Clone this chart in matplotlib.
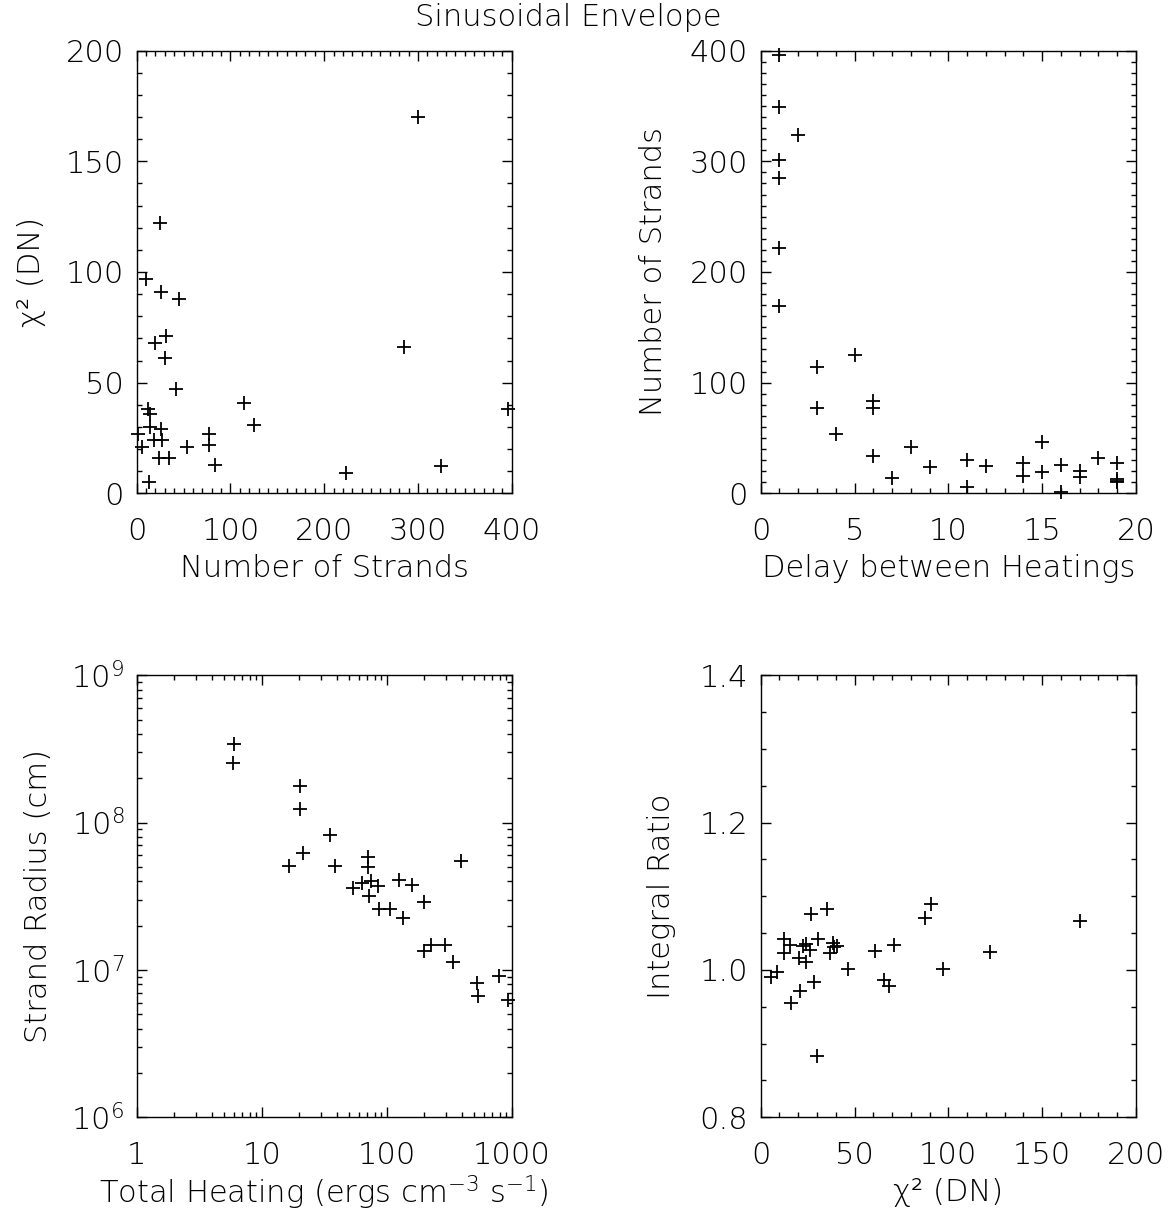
import matplotlib
matplotlib.use('Agg')
import matplotlib.pyplot as plt
from matplotlib.ticker import MultipleLocator, FuncFormatter, LogLocator

# top left: chi^2 vs number of strands
strands_a = [300, 25, 10, 26, 45, 31, 19, 30, 285, 42, 114, 396, 12, 14, 125,
             14, 26, 1, 77, 18, 27, 77, 6, 54, 24, 34, 83, 325, 223, 13]
chisq_a = [170, 122, 97, 91, 88, 71, 68, 61, 66, 47, 41, 38, 38, 36, 31,
           30, 29, 27, 27, 24, 24, 22, 21, 21, 16, 16, 13, 12.5, 9, 5]

# top right: number of strands vs delay
delay = [1, 1, 2, 1, 1, 1, 1, 5, 3, 3, 6, 6, 4, 6, 8, 7, 9, 11, 11, 12,
         14, 14, 15, 15, 16, 16, 17, 17, 18, 19, 19, 19, 19]
strands_b = [396, 349, 324, 301, 285, 222, 169, 125, 114, 77, 83, 77, 54, 34,
             42, 14, 24, 30, 6, 25, 27, 16, 46, 19, 26, 1.5, 20, 15, 32, 27,
             13, 11, 10]

# bottom left: strand radius vs total heating
heating = [6.0, 5.9, 20.4, 20.2, 35, 21.5, 16.5, 38.6, 70.9, 70.9, 393, 53.8,
           63.9, 75, 85.8, 72.6, 125.5, 159.7, 86.3, 107, 134, 200, 199, 226,
           295, 341, 528, 538, 787, 940]
radius = [3.44e8, 2.54e8, 1.78e8, 1.23e8, 8.2e7, 6.2e7, 5.1e7, 5.1e7, 5.8e7,
          5.0e7, 5.5e7, 3.6e7, 3.9e7, 4.0e7, 3.7e7, 3.2e7, 4.1e7, 3.8e7,
          2.6e7, 2.6e7, 2.24e7, 2.9e7, 1.35e7, 1.48e7, 1.47e7, 1.14e7,
          8.1e6, 6.7e6, 9.1e6, 6.25e6]

# bottom right: integral ratio vs chi^2
chisq_b = [5.3, 8.9, 12.4, 15.6, 12.6, 16, 20.6, 21, 22.4, 24, 24.2, 26.6,
           26.5, 28.4, 30.7, 30.2, 35.5, 38.4, 37, 40.9, 39.1, 46.5, 60.7, 71,
           65.9, 68.6, 87.7, 90.9, 97, 122, 170.2]
ratio = [0.990, 0.997, 1.0425, 1.0335, 1.0235, 0.955, 1.016, 0.9715, 1.0326,
         1.035, 1.011, 1.0756, 1.0267, 0.983, 1.042, 0.883, 1.083, 1.037,
         1.023, 1.033, 1.0317, 1.001, 1.026, 1.034, 0.987, 0.978, 1.070,
         1.089, 1.001, 1.025, 1.066]

plt.rcParams['font.family'] = ['DejaVu Sans']
plt.rcParams['font.weight'] = 'light'
plt.rcParams['axes.labelweight'] = 'light'
plt.rcParams['font.size'] = 22
plt.rcParams['mathtext.fontset'] = 'dejavusans'

W, H = 1168, 1213
fig = plt.figure(figsize=(W / 100., H / 100.), dpi=100)


def box(l, t, r, b):
    return [l / W, 1 - b / H, (r - l) / W, (b - t) / H]


def style(ax):
    ax.tick_params(which='both', direction='in', top=True, right=True,
                   width=1, labelsize=22)
    ax.tick_params(which='major', length=7.5)
    ax.tick_params(which='minor', length=3.8)
    ax.tick_params(axis='x', which='major', pad=17)
    ax.tick_params(axis='y', which='major', pad=9)
    for s in ax.spines.values():
        s.set_linewidth(1)


def labels(ax, xl, yl, ypos):
    ax.set_xlabel(xl, fontsize=22, fontweight='light')
    ax.xaxis.set_label_coords(0.5, -0.171)
    ax.xaxis.label.set_va('center')
    ax.set_ylabel(yl, fontsize=22, fontweight='light')
    ax.yaxis.set_label_coords(ypos, 0.5)
    ax.yaxis.label.set_va('center')


mk = dict(ls='none', marker='+', color='k', ms=10, mew=1.3, clip_on=False)
chi_label = 'χ² (DN)'

ax1 = fig.add_axes(box(136.7, 50.7, 511.7, 493.3))
ax1.plot(strands_a, chisq_a, **mk)
ax1.set_xlim(0, 400)
ax1.set_ylim(0, 200)
ax1.xaxis.set_major_locator(MultipleLocator(100))
ax1.xaxis.set_minor_locator(MultipleLocator(10))
ax1.yaxis.set_major_locator(MultipleLocator(50))
ax1.yaxis.set_minor_locator(MultipleLocator(10))
style(ax1)
labels(ax1, 'Number of Strands', chi_label, (31 - 136.7) / 375)

ax2 = fig.add_axes(box(760.7, 50.7, 1136, 493.3))
ax2.plot(delay, strands_b, **mk)
ax2.set_xlim(0, 20)
ax2.set_ylim(0, 400)
ax2.xaxis.set_major_locator(MultipleLocator(5))
ax2.xaxis.set_minor_locator(MultipleLocator(1))
ax2.yaxis.set_major_locator(MultipleLocator(100))
ax2.yaxis.set_minor_locator(MultipleLocator(10))
style(ax2)
labels(ax2, 'Delay between Heatings', 'Number of Strands', (654 - 760.7) / 375)

ax3 = fig.add_axes(box(136.7, 675.3, 511.7, 1117.3))
ax3.plot(heating, radius, **mk)
ax3.set_xscale('log')
ax3.set_yscale('log')
ax3.set_xlim(1, 1000)
ax3.set_ylim(1e6, 1e9)
ax3.xaxis.set_minor_locator(LogLocator(base=10, subs=range(2, 10)))
ax3.yaxis.set_minor_locator(LogLocator(base=10, subs=range(2, 10)))
ax3.xaxis.set_major_formatter(FuncFormatter(lambda v, p: '%g' % v))
style(ax3)
labels(ax3, r'Total Heating (ergs cm$^{-3}$ s$^{-1}$)', 'Strand Radius (cm)',
       (38 - 136.7) / 375)

ax4 = fig.add_axes(box(760.7, 675.3, 1136, 1117.3))
ax4.plot(chisq_b, ratio, **mk)
ax4.set_xlim(0, 200)
ax4.set_ylim(0.8, 1.4)
ax4.xaxis.set_major_locator(MultipleLocator(50))
ax4.xaxis.set_minor_locator(MultipleLocator(10))
ax4.yaxis.set_major_locator(MultipleLocator(0.2))
ax4.yaxis.set_minor_locator(MultipleLocator(0.05))
ax4.yaxis.set_major_formatter(FuncFormatter(lambda v, p: '%.1f' % v))
style(ax4)
labels(ax4, chi_label, 'Integral Ratio', (662 - 760.7) / 375)

fig.text(568.5 / W, 1 - 18. / H, 'Sinusoidal Envelope', ha='center',
         va='center', fontsize=22, fontweight='light')

fig.savefig('out.png', dpi=100)
